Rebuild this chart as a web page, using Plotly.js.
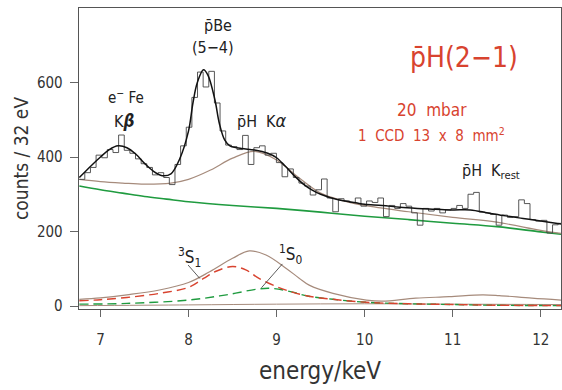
<!DOCTYPE html>
<html><head><meta charset="utf-8">
<script src="https://cdn.plot.ly/plotly-3.0.1.min.js"></script>
<style>body{margin:0;background:#fff}#g{width:562px;height:390px}
#g text{font-stretch:condensed !important}</style>
</head><body><div id="g"></div>
<script>
// histogram (bin left edges, width 0.064 keV) and counts
const binStart = 6.758, binWidth = 0.064;
const counts = [340,358,372,405,398,420,412,459,418,410,395,382,372,352,358,345,326,380,430,480,
  560,628,588,630,545,470,432,428,420,458,380,425,430,405,410,385,347,368,345,330,
  322,298,312,341,290,253,288,282,278,290,268,282,278,290,240,270,262,275,268,250,
  217,262,255,262,250,258,262,270,262,300,305,252,250,246,217,244,238,240,285,275,
  232,228,230,196,218,222];
const binEdges = counts.map((c,i)=>+(binStart+i*binWidth).toFixed(3));

// total fit
const fitE = [6.76,6.9,7.0,7.1,7.2,7.3,7.4,7.5,7.6,7.7,7.8,7.9,8.0,8.05,8.1,8.17,8.22,8.3,8.35,8.41,8.47,8.6,8.75,8.9,9.0,9.1,9.2,9.3,9.4,9.5,9.7,9.9,10.0,10.2,10.4,10.6,10.8,11.0,11.2,11.4,11.6,11.8,12.0,12.23];
const fitY = [345,378,400,420,430,425,408,383,362,350,355,395,470,545,600,634,620,553,490,446,430,423,419,410,398,375,350,328,312,300,285,277,273,270,265,262,260,258,258,250,242,235,228,220];

// background + pH K-alpha (upper brown)
const bkE = [6.76,7.0,7.25,7.5,7.8,8.0,8.25,8.5,8.75,9.0,9.25,9.5,9.75,10.0,10.5,11.0,11.5,12.0,12.23];
const bkY = [340,334,330,327,330,340,365,397,415,392,345,303,283,270,253,238,225,203,195];

// background (green)
const bgE = [6.76,7.0,7.25,7.5,7.75,8.0,8.5,9.0,9.5,10.0,10.5,11.0,11.5,12.0,12.23];
const bgY = [322,312,303,294,287,280,270,262,252,241,232,222,213,199,193];

// K-alpha + K-rest components (lower brown)
const kaE = [6.76,7.0,7.3,7.67,8.0,8.24,8.5,8.69,8.88,9.11,9.26,9.37,9.64,10.02,10.2,10.58,10.96,11.34,11.53,11.9,12.23];
const kaY = [18,22,30,43,63,92,128,148,137,101,74,56,34,16,13,21,25,30,28,21,16];

// slow component near zero (brown)
const slE = [6.76,8.0,9.0,10.0,11.0,12.23];
const slY = [1,3,5,6,5,4];

// 3S1 (red dashed)
const s1E = [6.76,7.0,7.3,7.67,8.0,8.17,8.32,8.5,8.65,8.8,9.0,9.17,9.35,9.64,10.02,10.5,11.0,11.5,12.23];
const s1Y = [14,17,23,34,50,74,94,106,97,74,52,38,27,18,10,6,4,2,1];

// 1S0 (green dashed)
const s0E = [6.76,7.3,8.0,8.43,8.8,8.96,9.17,9.35,9.64,10.02,10.5,11.0,11.5,12.23];
const s0Y = [5,7,16,30,46,47,38,27,18,10,6,4,2,1];

const xTicks = [7,8,9,10,11,12];
const yTicks = [0,200,400,600];

const FONT = '"Liberation Sans Narrow","DejaVu Sans Condensed","DejaVu Sans",sans-serif';
const BROWN = '#a68b7c', RED = '#d8432f', GREEN = '#1f9b3f';

const hx = binEdges.concat([+(binStart+counts.length*binWidth).toFixed(3)]);
const hy = counts.concat([counts[counts.length-1]]);

const traces = [
  {x:slE,y:slY,mode:'lines',line:{color:BROWN,width:1,shape:'spline'}},
  {x:s0E,y:s0Y,mode:'lines',line:{color:GREEN,width:1.4,dash:'9px,5px',shape:'spline'}},
  {x:s1E,y:s1Y,mode:'lines',line:{color:RED,width:1.4,dash:'9px,5px',shape:'spline'}},
  {x:kaE,y:kaY,mode:'lines',line:{color:BROWN,width:1.2,shape:'spline'}},
  {x:bgE,y:bgY,mode:'lines',line:{color:GREEN,width:1.6,shape:'spline'}},
  {x:bkE,y:bkY,mode:'lines',line:{color:BROWN,width:1.2,shape:'spline'}},
  {x:hx,y:hy,mode:'lines',line:{color:'#444',width:0.9,shape:'hv'}},
  {x:fitE,y:fitY,mode:'lines',line:{color:'#111',width:1.5,shape:'spline'}}
];

function ann(x,y,text,size,color){return {x:x,y:y,xref:'x',yref:'y',text:text,showarrow:false,
  font:{family:FONT,size:size,color:color||'#222'},xanchor:'center',yanchor:'middle'};}

const layout = {
  width:562,height:390,
  margin:{l:79,r:1,t:8,b:81},
  paper_bgcolor:'#fff',plot_bgcolor:'#fff',
  showlegend:false,
  font:{family:FONT,color:'#333'},
  xaxis:{range:[6.756,12.23],tickvals:xTicks,ticktext:xTicks.map(String),ticks:'outside',ticklen:7,tickcolor:'#666',
    showline:true,linecolor:'#555',linewidth:1.3,mirror:true,showgrid:false,zeroline:false,
    tickfont:{family:FONT,size:15,color:'#333'},ticklabelstandoff:10,
    title:{text:'energy/keV',font:{family:FONT,size:24,color:'#333'},standoff:14}},
  yaxis:{range:[-8,800],tickvals:yTicks,ticktext:yTicks.map(String),ticks:'outside',ticklen:8,tickcolor:'#666',
    showline:true,linecolor:'#555',linewidth:1.3,mirror:true,showgrid:false,zeroline:false,
    tickfont:{family:FONT,size:15,color:'#333'},ticklabelstandoff:4,
    title:{text:'counts / 32 eV',font:{family:FONT,size:19,color:'#333'},standoff:3}},
  annotations:[
    ann(8.332,754,'p̄Be',16),
    ann(8.275,693,'(5−4)',16),
    ann(7.29,561,'e<sup>−</sup> Fe',15),
    ann(7.266,497,'K<span style="font-size:17px"><b><i>β</i></b></span>',16),
    ann(8.83,499,'p̄H  K<span style="font-size:18px"><i>α</i></span>',16),
    ann(11.13,666,'p̄H(2−1)',28,RED),
    ann(10.76,526,'20  mbar',17,RED),
    ann(10.76,459,'1  CCD  13  x  8  mm<sup>2</sup>',15,RED),
    ann(11.44,360,'p̄H  K<sub>rest</sub>',16),
    ann(8.01,131,'<sup>3</sup>S<sub>1</sub>',17),
    ann(9.16,137,'<sup>1</sup>S<sub>0</sub>',17)
  ],
  shapes:[
    {type:'line',xref:'x',yref:'y',x0:7.995,y0:110,x1:8.128,y1:74,line:{color:'#333',width:0.8}},
    {type:'line',xref:'x',yref:'y',x0:9.066,y0:113,x1:8.828,y1:49,line:{color:'#333',width:0.8}}
  ]
};
Plotly.newPlot('g',traces,layout,{staticPlot:true});
</script></body></html>
